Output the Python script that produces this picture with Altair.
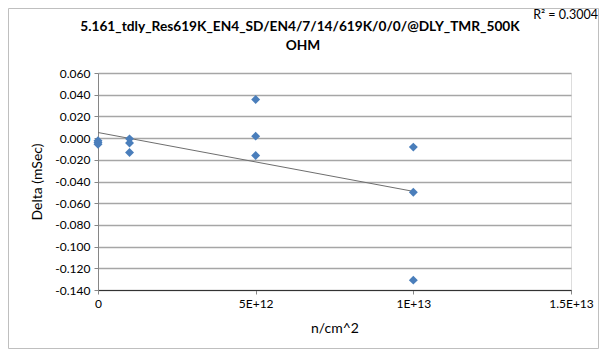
import altair as alt
import pandas as pd

# Data
fluence = [0, 0, 0, 1e12, 1e12, 1e12, 5e12, 5e12, 5e12, 1e13, 1e13, 1e13]
delta = [-0.0025, -0.0040, -0.0056, -0.0007, -0.0046, -0.0133,
         0.0356, 0.0018, -0.0161, -0.0083, -0.0499, -0.1309]
x_ticks = [0, 5e12, 1e13, 1.5e13]
x_tick_labels = ["0", "5E+12", "1E+13", "1.5E+13"]
y_ticks = [0.06, 0.04, 0.02, 0.0, -0.02, -0.04, -0.06, -0.08, -0.10, -0.12, -0.14]
title_lines = ["5.161_tdly_Res619K_EN4_SD/EN4/7/14/619K/0/0/@DLY_TMR_500K", "OHM"]
r2_label = "R\u00b2 = 0.3004"

df = pd.DataFrame({"n": fluence, "delta": delta})

FONT = "Lato"
W, H = 473, 217
PAD_L, PAD_T = 90, 65
TOTAL_W, TOTAL_H = 591, 342

label_expr = " : ".join(
    f"datum.value == {v} ? '{l}'" for v, l in zip(x_ticks, x_tick_labels)
) + " : ''"

x_enc = alt.X(
    "n:Q",
    scale=alt.Scale(domain=[0, 1.5e13], nice=False, zero=False),
    axis=alt.Axis(
        title="n/cm^2", values=x_ticks, labelExpr=label_expr, grid=False,
        labelOverlap=False, labelFlush=False, tickCount=20,
        tickSize=4, tickColor="#868686", domainColor="#333333",
        labelPadding=4, titlePadding=12, labelFontSize=12, titleFontSize=14,
        labelFont=FONT, titleFont=FONT, labelColor="#000000", titleColor="#000000",
        titleFontWeight="normal",
    ),
)
y_enc = alt.Y(
    "delta:Q",
    scale=alt.Scale(domain=[-0.14, 0.06], nice=False, zero=False),
    axis=alt.Axis(
        title="Delta (mSec)", values=y_ticks, tickCount=20,
        labelExpr="(datum.value < -0.00001 ? '-' : '') + format(abs(datum.value), '.3f')",
        labelOverlap=False, labelFlush=False,
        grid=True, gridColor="#A6A6A6", gridWidth=1.3,
        tickSize=4, tickColor="#868686", domainColor="#868686",
        labelPadding=4, titlePadding=10, labelFontSize=12, titleFontSize=14,
        labelFont=FONT, titleFont=FONT, labelColor="#000000", titleColor="#000000",
        titleFontWeight="normal",
    ),
)

base = alt.Chart(df)

points = base.mark_point(shape="diamond", filled=True, size=80, color="#4A7EBB", opacity=1).encode(
    x=x_enc, y=y_enc
)

trend = base.transform_regression("n", "delta", extent=[0, 1e13]).mark_line(
    color="#6E6E6E", strokeWidth=1
).encode(x="n:Q", y="delta:Q")

r2 = alt.Chart(pd.DataFrame({"t": [r2_label]})).mark_text(
    align="right", baseline="middle", font=FONT, fontSize=12.5, color="#000000"
).encode(text="t:N", x=alt.value(500), y=alt.value(-58))

title1 = alt.Chart(pd.DataFrame({"t": [title_lines[0]]})).mark_text(
    align="center", baseline="middle", font=FONT, fontSize=13.7, fontWeight="bold", color="#000000"
).encode(text="t:N", x=alt.value(202), y=alt.value(-46))

title2 = alt.Chart(pd.DataFrame({"t": [title_lines[1]]})).mark_text(
    align="center", baseline="middle", font=FONT, fontSize=13.7, fontWeight="bold", color="#000000"
).encode(text="t:N", x=alt.value(205), y=alt.value(-27))

border = alt.Chart(pd.DataFrame({"a": [0]})).mark_rect(
    fill=None, stroke="#BFBFBF", strokeWidth=1
).encode(
    x=alt.value(-89.5), x2=alt.value(TOTAL_W - PAD_L - 0.5),
    y=alt.value(-64.5), y2=alt.value(TOTAL_H - PAD_T - 1.5),
)

chart = alt.layer(border, trend, points, title1, title2, r2).properties(
    width=W, height=H,
    autosize=alt.AutoSizeParams(type="none"),
    padding={"left": PAD_L, "top": PAD_T, "right": TOTAL_W - PAD_L - W, "bottom": TOTAL_H - PAD_T - H},
).configure_view(
    fill="#E6EBEB", stroke="#1A1A1A", strokeWidth=1
).configure(background="#FFFFFF")

chart.save("out.html", embed_options={"renderer": "svg", "actions": False})
